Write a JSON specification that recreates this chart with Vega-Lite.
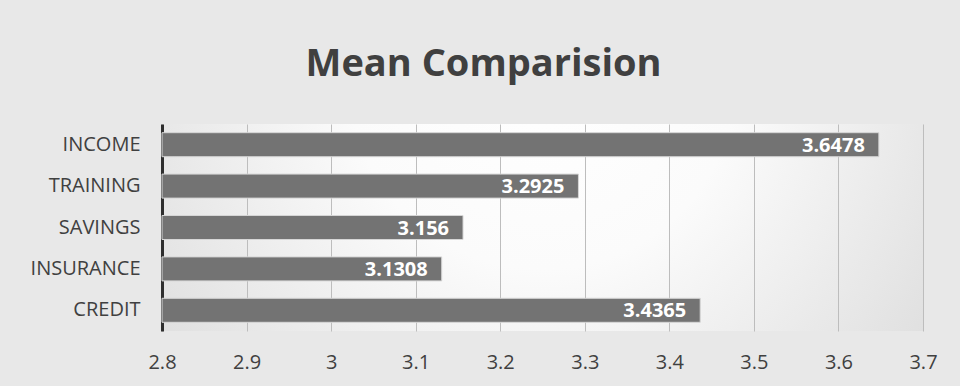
{
  "$schema": "https://vega.github.io/schema/vega-lite/v6.json",
  "autosize": {"type": "none"},
  "width": 761,
  "height": 207,
  "padding": {"left": 162, "top": 124, "right": 37, "bottom": 55},
  "background": "#e8e8e8",
  "title": {
    "text": "Mean Comparision",
    "font": "Open Sans",
    "fontSize": 38,
    "fontWeight": "bold",
    "color": "#404040",
    "anchor": "middle",
    "frame": "bounds",
    "baseline": "alphabetic",
    "offset": 10
  },
  "config": {
    "view": {
      "stroke": null,
      "fill": {
        "gradient": "radial",
        "x1": 0.5, "y1": 0.3, "x2": 0.5, "y2": 0.3,
        "r1": 0, "r2": 0.85,
        "stops": [
          {"offset": 0, "color": "#ffffff"},
          {"offset": 0.3, "color": "#fbfbfb"},
          {"offset": 1, "color": "#cdcdcd"}
        ]
      }
    }
  },
  "data": {
    "values": [
      {"category": "INCOME", "mean": 3.6478, "label": "3.6478"},
      {"category": "TRAINING", "mean": 3.2925, "label": "3.2925"},
      {"category": "SAVINGS", "mean": 3.156, "label": "3.156"},
      {"category": "INSURANCE", "mean": 3.1308, "label": "3.1308"},
      {"category": "CREDIT", "mean": 3.4365, "label": "3.4365"}
    ]
  },
  "encoding": {
    "y": {
      "field": "category",
      "type": "nominal",
      "sort": null,
      "title": null,
      "scale": {"paddingInner": 0.42, "paddingOuter": 0.21},
      "axis": {
        "labelFont": "Open Sans",
        "labelFontSize": 20,
        "labelColor": "#404040",
        "labelPadding": 22,
        "ticks": false,
        "domainColor": "#2e2e2e",
        "domainWidth": 3,
        "grid": false
      }
    },
    "x": {
      "field": "mean",
      "type": "quantitative",
      "title": null,
      "scale": {"domain": [2.8, 3.7], "zero": false, "nice": false, "clamp": true},
      "axis": {
        "values": [2.8, 2.9, 3.0, 3.1, 3.2, 3.3, 3.4, 3.5, 3.6, 3.7],
        "format": ".1~f",
        "labelFont": "Open Sans",
        "labelFontSize": 20,
        "labelColor": "#404040",
        "labelPadding": 21,
        "ticks": false,
        "domain": false,
        "grid": true,
        "gridColor": "#bdbdbd",
        "gridWidth": 1,
        "labelFlush": false
      }
    }
  },
  "layer": [
    {
      "mark": {"type": "bar", "fill": "#737373", "stroke": "#d6d6d6", "strokeWidth": 1}
    },
    {
      "mark": {
        "type": "text",
        "align": "right",
        "baseline": "middle",
        "dx": -14,
        "dy": 1,
        "font": "Open Sans",
        "fontSize": 20,
        "fontWeight": "bold",
        "color": "#ffffff"
      },
      "encoding": {"text": {"field": "label"}}
    }
  ]
}
